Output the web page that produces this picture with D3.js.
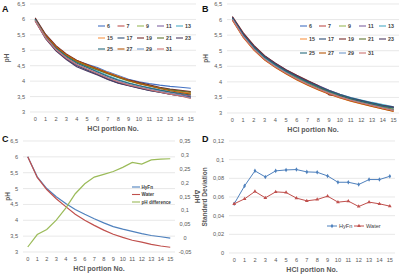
<!DOCTYPE html>
<html><head><meta charset="utf-8">
<script src="https://cdn.jsdelivr.net/npm/d3@7"></script>
<style>body{margin:0;background:#fff}svg{display:block;font-family:"Liberation Sans",Arial,sans-serif}</style>
</head><body><svg id="c" width="400" height="275"></svg>
<script>
const portions = d3.range(0,16).map(String);
const seriesNames = ["6","7","9","11","13","15","17","19","21","23","25","27","29","31"];
const seriesColors = ["#4472C4","#C0504D","#9BBB59","#8064A2","#4BACC6","#F79646","#2C4D75","#772C2A","#5F7530","#4D3B62","#276A7C","#B65708","#729ACA","#CD7371"];
const pHTicks = [3,3.5,4,4.5,5,5.5,6,6.5];
const dpHTicks = [-0.05,0,0.05,0.1,0.15,0.2,0.25,0.3,0.35];
const sdTicks = [0,0.02,0.04,0.06,0.08,0.1,0.12];

const aValues = [
 [6.02,5.5,5.12,4.85,4.66,4.55,4.44,4.3,4.18,4.06,3.98,3.92,3.87,3.83,3.8,3.77],
 [5.98,5.44,5.06,4.8,4.6,4.46,4.3,4.16,4.03,3.93,3.85,3.77,3.7,3.64,3.58,3.52],
 [6.0,5.47,5.1,4.84,4.64,4.5,4.37,4.24,4.12,4.0,3.92,3.84,3.77,3.71,3.66,3.6],
 [5.95,5.4,5.0,4.72,4.5,4.36,4.22,4.08,3.96,3.87,3.79,3.72,3.66,3.6,3.55,3.5],
 [6.0,5.46,5.08,4.8,4.6,4.45,4.32,4.18,4.05,3.95,3.86,3.79,3.72,3.66,3.61,3.56],
 [5.97,5.45,5.1,4.86,4.66,4.52,4.4,4.28,4.16,4.04,3.94,3.86,3.78,3.72,3.66,3.62],
 [6.0,5.42,5.02,4.74,4.52,4.36,4.22,4.06,3.94,3.86,3.78,3.7,3.64,3.58,3.53,3.48],
 [6.05,5.52,5.15,4.88,4.68,4.54,4.4,4.26,4.14,4.04,3.96,3.88,3.8,3.74,3.7,3.66],
 [5.99,5.46,5.09,4.82,4.62,4.48,4.36,4.24,4.12,4.01,3.93,3.85,3.78,3.72,3.68,3.64],
 [5.96,5.38,4.98,4.7,4.47,4.33,4.2,4.05,3.93,3.85,3.77,3.7,3.64,3.58,3.52,3.47],
 [6.01,5.45,5.06,4.79,4.58,4.44,4.3,4.15,4.03,3.93,3.85,3.78,3.71,3.65,3.6,3.55],
 [5.98,5.48,5.12,4.86,4.66,4.52,4.39,4.26,4.14,4.02,3.92,3.84,3.76,3.69,3.63,3.58],
 [5.97,5.42,5.03,4.76,4.55,4.4,4.26,4.12,4.0,3.9,3.82,3.74,3.67,3.6,3.54,3.45],
 [5.94,5.4,5.02,4.75,4.54,4.39,4.25,4.1,3.98,3.88,3.8,3.72,3.65,3.58,3.52,3.44]
];
const bValues = [
 [6.05,5.5,5.1,4.78,4.54,4.33,4.15,3.98,3.83,3.69,3.57,3.46,3.38,3.3,3.22,3.15],
 [6.0,5.46,5.05,4.72,4.48,4.27,4.08,3.92,3.77,3.63,3.52,3.42,3.33,3.25,3.17,3.1],
 [6.02,5.48,5.07,4.75,4.52,4.32,4.13,3.96,3.81,3.67,3.55,3.44,3.35,3.27,3.2,3.12],
 [6.08,5.55,5.15,4.83,4.6,4.38,4.2,4.03,3.88,3.73,3.6,3.5,3.41,3.33,3.25,3.2],
 [6.04,5.52,5.12,4.8,4.56,4.35,4.17,4.0,3.86,3.72,3.6,3.5,3.42,3.34,3.27,3.2],
 [5.98,5.43,5.02,4.7,4.46,4.25,4.06,3.89,3.74,3.6,3.48,3.38,3.29,3.21,3.13,3.06],
 [6.06,5.53,5.13,4.81,4.57,4.36,4.18,4.0,3.85,3.7,3.58,3.48,3.4,3.32,3.24,3.18],
 [6.1,5.58,5.17,4.84,4.6,4.39,4.21,4.04,3.88,3.58,3.55,3.46,3.38,3.3,3.23,3.17],
 [6.03,5.49,5.08,4.76,4.52,4.31,4.12,3.95,3.8,3.66,3.54,3.43,3.34,3.26,3.18,3.1],
 [6.07,5.54,5.14,4.82,4.58,4.37,4.19,4.02,3.87,3.72,3.59,3.48,3.39,3.31,3.24,3.19],
 [6.05,5.51,5.11,4.79,4.55,4.34,4.16,3.99,3.84,3.7,3.58,3.47,3.38,3.3,3.22,3.16],
 [5.99,5.44,5.03,4.71,4.47,4.26,4.07,3.9,3.75,3.61,3.49,3.39,3.3,3.21,3.13,3.05],
 [6.02,5.47,5.06,4.74,4.5,4.29,4.1,3.93,3.78,3.64,3.52,3.42,3.33,3.25,3.17,3.09],
 [6.0,5.45,5.04,4.72,4.48,4.28,4.09,3.92,3.77,3.63,3.51,3.41,3.32,3.24,3.16,3.08]
];
const cHyFn = [6.0,5.37,5.0,4.74,4.53,4.34,4.19,4.05,3.92,3.8,3.72,3.65,3.58,3.52,3.48,3.44];
const cWater = [6.0,5.35,4.97,4.68,4.43,4.19,4.0,3.84,3.69,3.56,3.46,3.37,3.31,3.24,3.19,3.15];
const cDiff = [-0.032,0.013,0.031,0.065,0.108,0.16,0.196,0.22,0.23,0.24,0.255,0.273,0.267,0.282,0.285,0.286];
const dHyFn = [0.0527,0.0719,0.088,0.0815,0.088,0.089,0.0894,0.0869,0.0865,0.0826,0.0758,0.0758,0.0734,0.0787,0.0787,0.0822];
const dWater = [0.0527,0.058,0.0659,0.0591,0.0655,0.0648,0.0588,0.0559,0.0573,0.0609,0.0545,0.0556,0.0498,0.0545,0.0527,0.0502];

const svg = d3.select("#c");
const fmt = v => String(+v.toFixed(2)).replace(".", ",");
const GRID = "#d9d9d9", TXT = "#595959";

function panel(o){
  const g = svg.append("g");
  const x = d3.scaleBand().domain(portions).range([o.x0,o.x1]);
  const y = d3.scaleLinear().domain(o.ydom).range([o.yb,o.yt]);
  g.selectAll("line.grid").data(o.yticks).join("line")
    .attr("x1",o.x0).attr("x2",o.x1).attr("y1",d=>y(d)).attr("y2",d=>y(d))
    .attr("stroke",GRID).attr("stroke-width",0.6);
  g.selectAll("text.yt").data(o.yticks).join("text")
    .attr("x",o.x0-5).attr("y",d=>y(d)+2).attr("text-anchor","end")
    .attr("font-size",5.6).attr("fill",TXT).text(fmt);
  g.selectAll("text.xt").data(portions).join("text")
    .attr("x",d=>x(d)+x.bandwidth()/2).attr("y",o.yb+8.5).attr("text-anchor","middle")
    .attr("font-size",5.6).attr("fill",TXT).text(d=>d);
  g.append("text").attr("x",(o.x0+o.x1)/2).attr("y",o.yb+19).attr("text-anchor","middle")
    .attr("font-size",7).attr("font-weight","bold").attr("fill",TXT).text("HCl portion No.");
  g.append("text").attr("transform",`translate(${o.ylx},${(o.yt+o.yb)/2}) rotate(-90)`)
    .attr("text-anchor","middle").attr("font-size",6.5).attr("font-weight","bold").attr("fill",TXT).text(o.ylabel);
  g.append("text").attr("x",o.lx).attr("y",o.ly).attr("font-size",9).attr("font-weight","bold").attr("fill","#111").text(o.letter);
  return {g,x,y};
}

function multi(o, values){
  const {g,x,y} = panel(o);
  const line = d3.line().x((d,i)=>x(portions[i])+x.bandwidth()/2).y(d=>y(d));
  g.selectAll("path.s").data(values).join("path")
    .attr("d",line).attr("fill","none").attr("stroke",(d,i)=>seriesColors[i]).attr("stroke-width",1.1);
  const lg = g.append("g");
  seriesNames.forEach((n,i)=>{
    const cx = o.legX[i%5], cy = o.legY[Math.floor(i/5)];
    lg.append("line").attr("x1",cx).attr("x2",cx+7).attr("y1",cy).attr("y2",cy)
      .attr("stroke",seriesColors[i]).attr("stroke-width",1.1);
    lg.append("text").attr("x",cx+9).attr("y",cy+2).attr("font-size",5.3).attr("font-weight","bold")
      .attr("fill","#404040").text(n);
  });
}

multi({x0:30,x1:196,yt:4,yb:112,ydom:[3,6.5],yticks:pHTicks,ylabel:"pH",ylx:9,letter:"A",lx:2,ly:12,
  legX:[98,117.5,137,157,176],legY:[26,38,49]}, aValues);
multi({x0:227,x1:399,yt:4,yb:113,ydom:[3,6.5],yticks:pHTicks,ylabel:"pH",ylx:208,letter:"B",lx:202,ly:12,
  legX:[300,319,339,359,379],legY:[26,39,53]}, bValues);

// Panel C
(function(){
  const o = {x0:23,x1:175,yt:141,yb:252,ydom:[3,6.5],yticks:pHTicks,ylabel:"pH",ylx:10,letter:"C",lx:2,ly:142};
  const {g,x,y} = panel(o);
  const y2 = d3.scaleLinear().domain([-0.05,0.35]).range([o.yb,o.yt]);
  g.selectAll("text.y2").data(dpHTicks).join("text")
    .attr("x",185).attr("y",d=>y2(d)+2).attr("text-anchor","middle")
    .attr("font-size",5.6).attr("fill",TXT).text(fmt);
  g.append("text").attr("transform",`translate(195,${(o.yt+o.yb)/2}) rotate(90)`)
    .attr("text-anchor","middle").attr("font-size",6.5).attr("font-weight","bold").attr("fill",TXT).text("ΔpH");
  const xp = (d,i)=>x(portions[i])+x.bandwidth()/2;
  const defs = [[cHyFn,"#4F81BD","HyFn",y],[cWater,"#C0504D","Water",y],[cDiff,"#9BBB59","pH difference",y2]];
  defs.forEach(([vals,col,name,sc],k)=>{
    g.append("path").datum(vals).attr("d",d3.line().x(xp).y(d=>sc(d)))
      .attr("fill","none").attr("stroke",col).attr("stroke-width",1.2);
    const ly = 187 + k*7.5;
    g.append("line").attr("x1",132).attr("x2",140).attr("y1",ly).attr("y2",ly).attr("stroke",col).attr("stroke-width",1.1);
    g.append("text").attr("x",141.5).attr("y",ly+1.8).attr("font-size",4.6).attr("font-weight","bold").attr("fill","#404040").text(name);
  });
})();

// Panel D
(function(){
  const o = {x0:229,x1:395,yt:141,yb:253,ydom:[0,0.12],yticks:sdTicks,ylabel:"Standard Deviation",ylx:207,letter:"D",lx:202,ly:142};
  const {g,x,y} = panel(o);
  const xp = (d,i)=>x(portions[i])+x.bandwidth()/2;
  const defs = [[dHyFn,"#4F81BD","HyFn",d3.symbolDiamond,327],[dWater,"#C0504D","Water",d3.symbolTriangle,354]];
  defs.forEach(([vals,col,name,sym,lx])=>{
    g.append("path").datum(vals).attr("d",d3.line().x(xp).y(d=>y(d)))
      .attr("fill","none").attr("stroke",col).attr("stroke-width",1);
    g.selectAll(null).data(vals).join("path")
      .attr("transform",(d,i)=>`translate(${xp(d,i)},${y(d)})`)
      .attr("d",d3.symbol().type(sym).size(6)).attr("fill",col);
    g.append("line").attr("x1",lx).attr("x2",lx+10).attr("y1",226).attr("y2",226).attr("stroke",col).attr("stroke-width",1);
    g.append("path").attr("transform",`translate(${lx+5},226)`).attr("d",d3.symbol().type(sym).size(6)).attr("fill",col);
    g.append("text").attr("x",lx+12).attr("y",228).attr("font-size",5.6).attr("fill","#404040").text(name);
  });
})();
</script></body></html>
